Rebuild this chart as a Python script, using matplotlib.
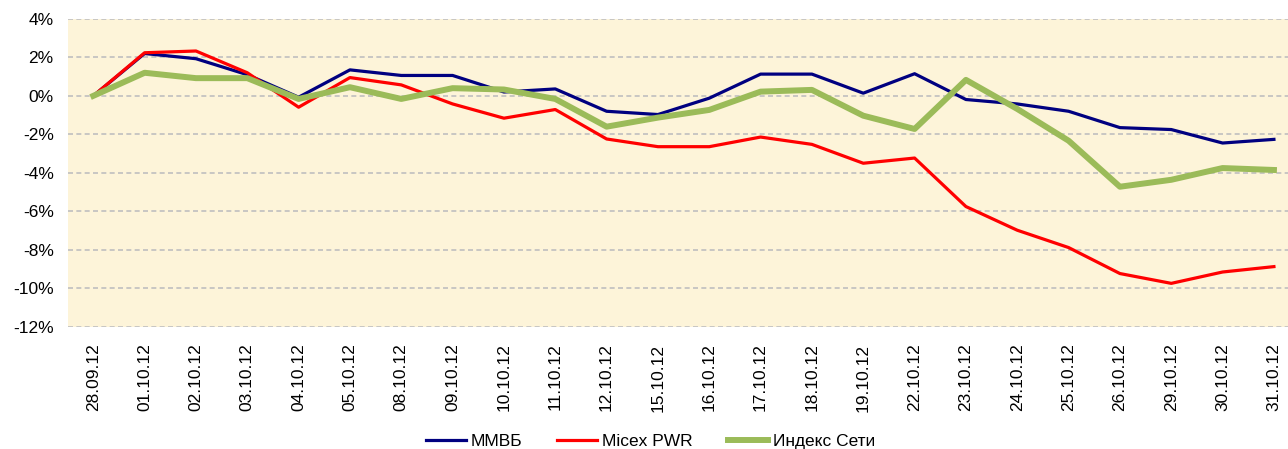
import matplotlib
matplotlib.use("Agg")
import matplotlib.pyplot as plt
from matplotlib.ticker import FuncFormatter

# даты торгов
dates = ["28.09.12", "01.10.12", "02.10.12", "03.10.12", "04.10.12", "05.10.12",
         "08.10.12", "09.10.12", "10.10.12", "11.10.12", "12.10.12", "15.10.12",
         "16.10.12", "17.10.12", "18.10.12", "19.10.12", "22.10.12", "23.10.12",
         "24.10.12", "25.10.12", "26.10.12", "29.10.12", "30.10.12", "31.10.12"]

# изменение индексов, %
mmvb = [0.0, 2.2, 1.93, 1.1, -0.07, 1.35, 1.06, 1.06, 0.2, 0.36, -0.8, -0.97,
        -0.12, 1.13, 1.13, 0.14, 1.15, -0.19, -0.42, -0.8, -1.65, -1.75, -2.45, -2.26]
micex_pwr = [0.0, 2.24, 2.33, 1.2, -0.59, 0.95, 0.57, -0.42, -1.16, -0.71, -2.24, -2.64,
             -2.64, -2.14, -2.52, -3.5, -3.23, -5.75, -6.98, -7.88, -9.23, -9.74, -9.15, -8.87]
seti = [0.0, 1.2, 0.92, 0.92, -0.16, 0.45, -0.16, 0.4, 0.33, -0.16, -1.6, -1.13,
        -0.73, 0.22, 0.31, -1.03, -1.72, 0.83, -0.68, -2.33, -4.72, -4.36, -3.75, -3.85]

plt.rcParams['font.family'] = ['Liberation Sans', 'DejaVu Sans']

fig = plt.figure(figsize=(12.88, 4.49), dpi=100)
ax = fig.add_axes([0.0525, 0.272, 0.9565, 0.686])
ax.set_facecolor('#fdf4d9')

x = list(range(len(dates)))
ax.plot(x, mmvb, color='#000080', linewidth=2.3, label='ММВБ', zorder=3)
ax.plot(x, micex_pwr, color='#ff0000', linewidth=2.3, label='Micex PWR', zorder=4)
ax.plot(x, seti, color='#9bbb59', linewidth=4.3, label='Индекс Сети', zorder=5)

ax.set_xlim(-0.5, len(dates) - 0.5)
ax.set_ylim(-12, 4)
ax.set_yticks(range(-12, 5, 2))
ax.yaxis.set_major_formatter(FuncFormatter(lambda v, p: f"{v:.0f}%"))
ax.set_xticks(x)
ax.set_xticklabels(dates, rotation=90, fontsize=12.5)
ax.tick_params(axis='y', labelsize=12.5, length=0, pad=10)
ax.tick_params(axis='x', length=0, pad=12)

ax.grid(axis='y', color='#bfbfbf', linestyle=(0, (3, 2)), linewidth=1.2)
ax.set_axisbelow(True)
for s in ax.spines.values():
    s.set_visible(False)

fig.legend(loc='center', bbox_to_anchor=(0.505, 0.017), ncol=3, frameon=False,
           fontsize=12.5, handlelength=2.3, handletextpad=0.3, columnspacing=2.0)

fig.savefig("out.png", dpi=100, facecolor='white')
plt.close()
